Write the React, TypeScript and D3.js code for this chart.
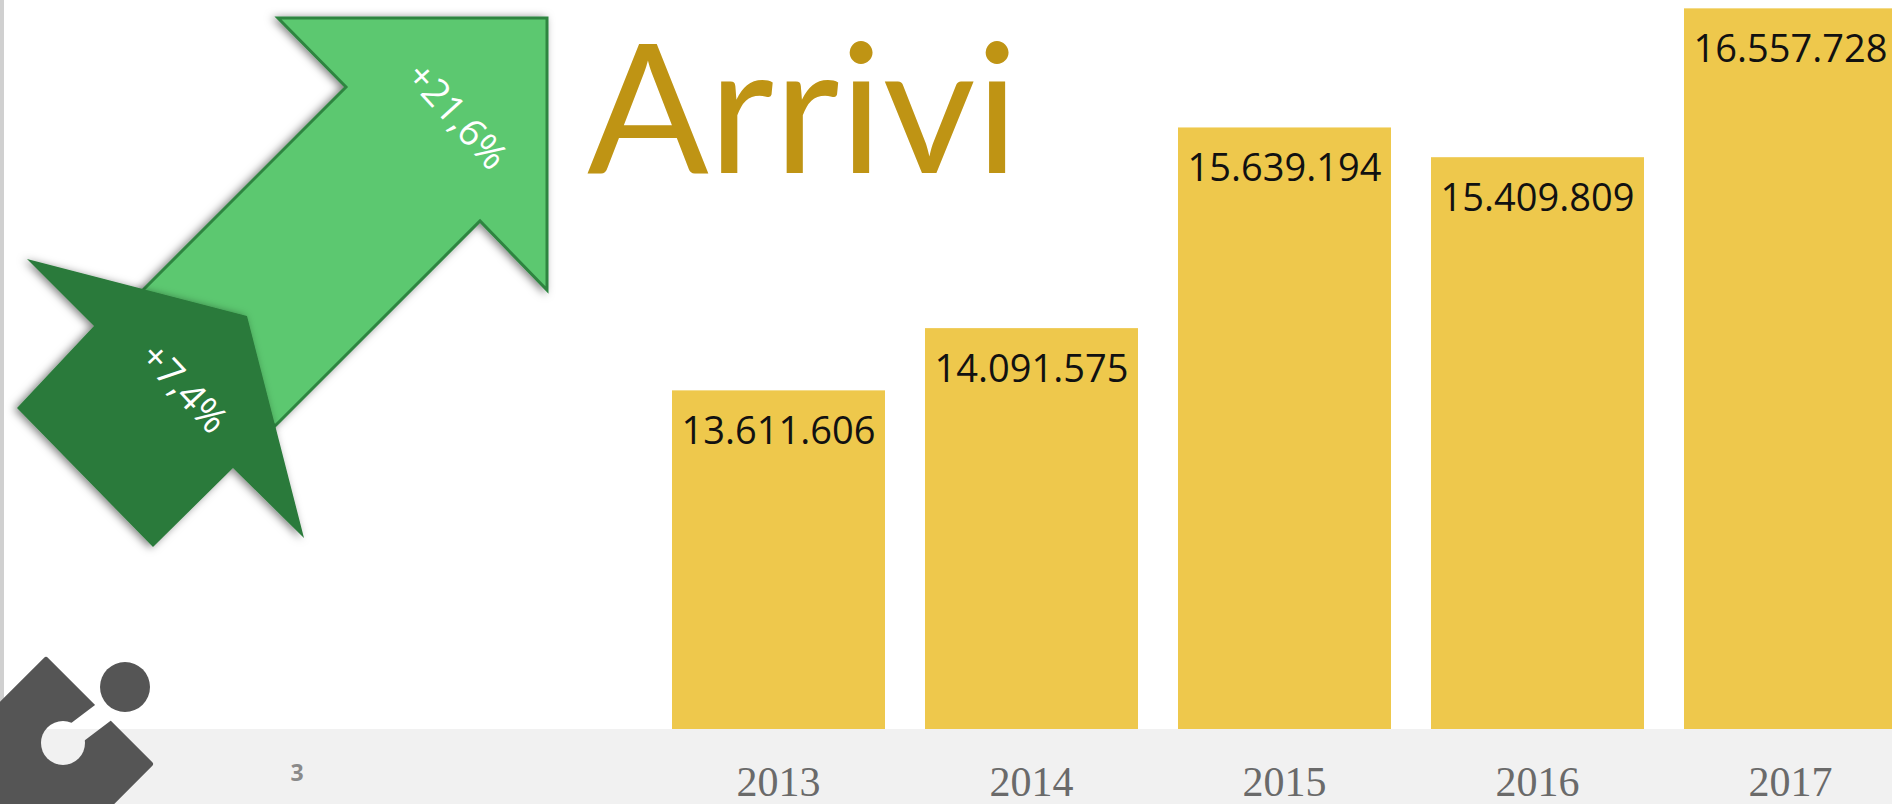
import React from "react";
import * as d3 from "d3";

// dati: arrivi per anno
const years = ["2013", "2014", "2015", "2016", "2017"];
const arrivals = [13611606, 14091575, 15639194, 15409809, 16557728];
const yDomain = [11000000, 17000000];
const title = "Arrivi";
const pageNumber = "3";

const W = 1892;
const H = 804;
const footerTop = 729;

const itLocale = d3.formatLocale({
  decimal: ",",
  thousands: ".",
  grouping: [3],
  currency: ["€", ""],
});
const fmtInt = itLocale.format(",d");
const fmtPct = itLocale.format("+.1%");

const x = d3
  .scaleBand<string>()
  .domain(years)
  .range([652, 1917])
  .paddingInner(40 / 253)
  .paddingOuter(20 / 253);

const y = d3.scaleLinear().domain(yDomain).range([footerTop, -49]);

const line = d3.line<[number, number]>();

// frecce decorative
const bigArrow: [number, number][] = [
  [278, 18],
  [547, 18],
  [547, 290],
  [480, 221],
  [275, 426],
  [141, 292],
  [346, 87],
];
const smallArrow: [number, number][] = [
  [27, 259],
  [247, 316],
  [304, 538],
  [233, 468],
  [153, 547],
  [17, 408],
  [94, 326],
];

const growthTotal = arrivals[arrivals.length - 1] / arrivals[0] - 1;
const growthLast =
  arrivals[arrivals.length - 1] / arrivals[arrivals.length - 2] - 1;

const logo: [number, number][] = [
  [0, 706],
  [46, 660],
  [150, 764],
  [110, 804],
  [0, 804],
];

export default function App() {
  return (
    <svg
      width={W}
      height={H}
      style={{ position: "absolute", left: 0, top: 0, display: "block", background: "#fff" }}
    >
      <defs>
        <filter id="shadow" x="-30%" y="-30%" width="160%" height="160%">
          <feDropShadow dx="-3" dy="1" stdDeviation="4" floodColor="#000" floodOpacity="0.5" />
        </filter>
        <mask id="logoMask">
          <rect x={0} y={0} width={W} height={H} fill="#000" />
          <path d={line(logo) + "Z"} fill="#fff" stroke="#fff" strokeWidth={6} strokeLinejoin="round" />
          <circle cx={63} cy={743} r={22} fill="#000" />
          <line x1={63} y1={743} x2={104} y2={712} stroke="#000" strokeWidth={22} strokeLinecap="round" />
          <circle cx={64} cy={662} r={8} fill="#000" />
        </mask>
      </defs>

      {/* footer */}
      <rect x={0} y={footerTop} width={W} height={H - footerTop} fill="#f1f1f1" />
      <rect x={0} y={0} width={4} height={H} fill="#d0d0d0" />

      {/* barre */}
      {arrivals.map((v, i) => (
        <rect
          key={years[i]}
          x={x(years[i])}
          y={y(v)}
          width={x.bandwidth()}
          height={footerTop - y(v)}
          fill="#eec84c"
        />
      ))}
      {arrivals.map((v, i) => (
        <text
          key={"l" + years[i]}
          x={(x(years[i]) as number) + x.bandwidth() / 2}
          y={y(v) + 54}
          textAnchor="middle"
          fontFamily="'Open Sans', sans-serif"
          fontSize={38}
          fill="#111"
        >
          {fmtInt(v)}
        </text>
      ))}
      {years.map((yr) => (
        <text
          key={"x" + yr}
          x={(x(yr) as number) + x.bandwidth() / 2}
          y={796}
          textAnchor="middle"
          fontFamily="'Liberation Serif', serif"
          fontSize={42}
          fill="#6a6a6a"
        >
          {yr}
        </text>
      ))}

      {/* titolo */}
      <text x={587} y={173} fontFamily="Lato, sans-serif" fontSize={180} fill="#bf9414">
        {title}
      </text>

      {/* frecce */}
      <path
        d={line(bigArrow) + "Z"}
        fill="#5bc870"
        stroke="#2e8540"
        strokeWidth={3}
        filter="url(#shadow)"
      />
      <text
        transform="translate(455,118) rotate(48)"
        textAnchor="middle"
        dominantBaseline="middle"
        fontFamily="'Open Sans', sans-serif"
        fontSize={38}
        fill="#fff"
      >
        {fmtPct(growthTotal)}
      </text>
      <path d={line(smallArrow) + "Z"} fill="#2a7a3a" filter="url(#shadow)" />
      <text
        transform="translate(182,390) rotate(47)"
        textAnchor="middle"
        dominantBaseline="middle"
        fontFamily="'Open Sans', sans-serif"
        fontSize={38}
        fill="#fff"
      >
        {fmtPct(growthLast)}
      </text>

      {/* logo */}
      <rect x={0} y={640} width={170} height={164} fill="#555" mask="url(#logoMask)" />
      <circle cx={125} cy={687} r={25} fill="#555" />

      <text
        x={297}
        y={781}
        textAnchor="middle"
        fontFamily="'Open Sans', sans-serif"
        fontWeight="bold"
        fontSize={23}
        fill="#8a8a8a"
      >
        {pageNumber}
      </text>
    </svg>
  );
}
